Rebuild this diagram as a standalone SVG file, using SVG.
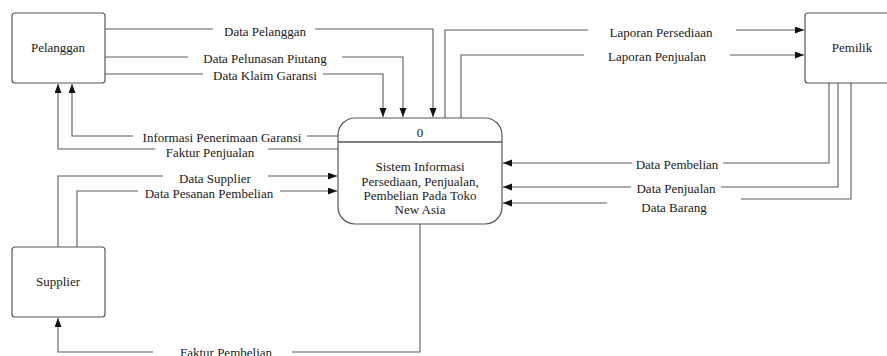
<svg xmlns="http://www.w3.org/2000/svg" width="887" height="356" viewBox="0 0 887 356">
<style>
  .box { fill: #ffffff; stroke: #555555; stroke-width: 1.2; }
  .ln { fill: none; stroke: #5a5a5a; stroke-width: 1.1; }
  .arr { marker-end: url(#ah); }
  text { font-family: "Liberation Serif", "Times New Roman", serif; font-size: 13px; fill: #1a1a1a; text-anchor: middle; }
</style>
<defs>
  <marker id="ah" markerUnits="userSpaceOnUse" markerWidth="10" markerHeight="8" refX="9" refY="3.5" orient="auto">
    <path d="M0,0 L9,3.5 L0,7 z" fill="#111111"/>
  </marker>
</defs>
<rect width="887" height="356" fill="#ffffff"/>

<g id="connectors">
  <path class="ln arr" d="M105,29 H213 M315,29 H433 V117"/>
  <path class="ln arr" d="M105,57 H188 M342,57 H403 V117"/>
  <path class="ln arr" d="M105,74 H203 M323,74 H383 V117"/>
  <path class="ln arr" d="M338,136 H307 M133,136 H72 V84"/>
  <path class="ln arr" d="M338,149 H268 M155,149 H58 V84"/>
  <path class="ln arr" d="M58,247 V176 H163 M268,176 H337"/>
  <path class="ln arr" d="M77,247 V191 H138 M280,191 H337"/>
  <path class="ln arr" d="M420,224 V352 H292 M153,352 H58 V318"/>
  <path class="ln arr" d="M445,118 V30 H588 M736,30 H804"/>
  <path class="ln arr" d="M461,118 V55 H584 M730,55 H804"/>
  <path class="ln arr" d="M829,83 V163 H723 M632,163 H503"/>
  <path class="ln arr" d="M838,83 V187 H721 M631,187 H503"/>
  <path class="ln arr" d="M851,83 V199 H741 M607,203 H503"/>
  <text x="265" y="35.5">Data Pelanggan</text>
  <text x="265" y="63">Data Pelunasan Piutang</text>
  <text x="265" y="79.5">Data Klaim Garansi</text>
  <text x="222" y="141.5">Informasi Penerimaan Garansi</text>
  <text x="210" y="157">Faktur Penjualan</text>
  <text x="215" y="183">Data Supplier</text>
  <text x="209" y="198">Data Pesanan Pembelian</text>
  <text x="226" y="357">Faktur Pembelian</text>
  <text x="661" y="37">Laporan Persediaan</text>
  <text x="657" y="60.5">Laporan Penjualan</text>
  <text x="677" y="169">Data Pembelian</text>
  <text x="676" y="193">Data Penjualan</text>
  <text x="674" y="212">Data Barang</text>
</g>

<g id="pelanggan">
  <rect class="box" x="12" y="13" width="93" height="70" rx="3"/>
  <text x="58" y="52">Pelanggan</text>
</g>

<g id="supplier">
  <rect class="box" x="12" y="247" width="93" height="70" rx="3"/>
  <text x="58" y="286">Supplier</text>
</g>

<g id="pemilik">
  <rect class="box" x="805" y="13" width="100" height="70" rx="3"/>
  <text x="852" y="52">Pemilik</text>
</g>

<g id="process-0">
  <rect class="box" x="338" y="118" width="164" height="106" rx="17"/>
  <line x1="338" y1="142" x2="502" y2="142" stroke="#555555" stroke-width="1.6"/>
  <text x="420" y="136.5">0</text>
  <text x="420" y="171">Sistem Informasi</text>
  <text x="420" y="185.5">Persediaan, Penjualan,</text>
  <text x="420" y="200">Pembelian Pada Toko</text>
  <text x="420" y="214">New Asia</text>
</g>
</svg>
